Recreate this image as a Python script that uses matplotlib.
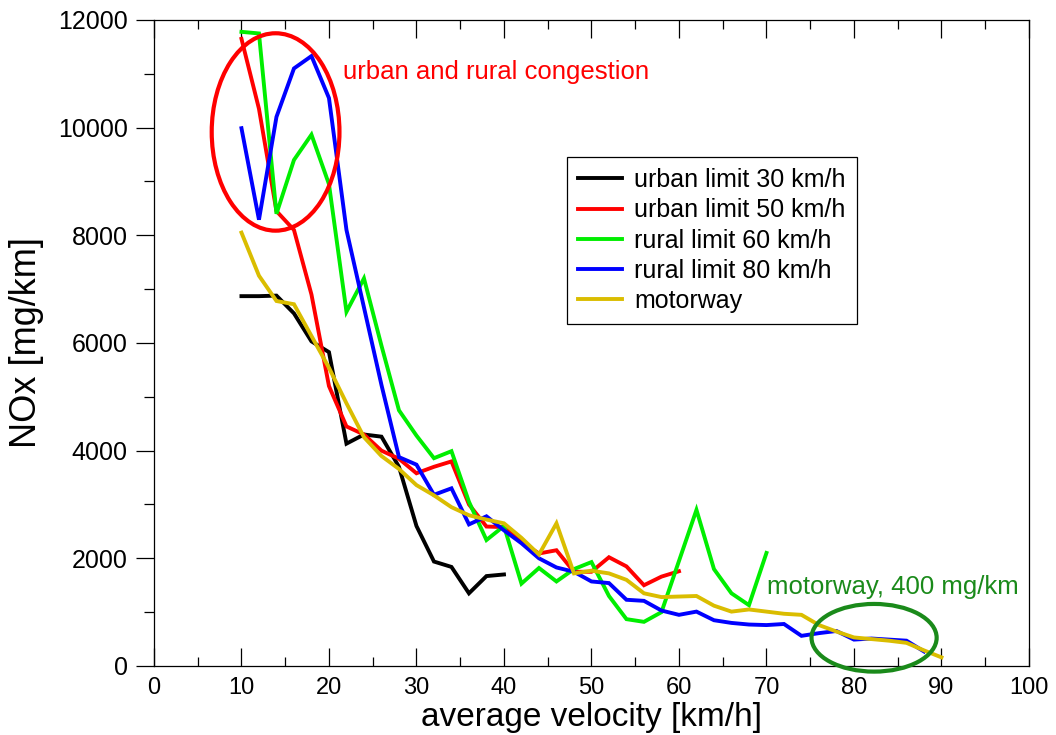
import numpy as np
import matplotlib
matplotlib.use('Agg')
import matplotlib.pyplot as plt
from matplotlib.patches import Ellipse
from matplotlib.ticker import MultipleLocator

plt.rcParams['font.family'] = ['Liberation Sans', 'DejaVu Sans']

# NOx emission factors, one series per road type
speed_urban30 = np.arange(10, 41, 2)
nox_urban30 = [6870, 6870, 6880, 6550, 6030, 5830, 4130, 4300, 4260, 3700, 2600,
               1940, 1840, 1350, 1670, 1700]

speed_urban50 = np.arange(10, 61, 2)
nox_urban50 = [11650, 10350, 8450, 8100, 6900, 5200, 4450, 4300, 4000, 3850, 3580,
               3700, 3800, 3000, 2590, 2580, 2300, 2090, 2150, 1750, 1750, 2020,
               1850, 1500, 1660, 1760]

speed_rural60 = np.arange(10, 71, 2)
nox_rural60 = [11780, 11750, 8400, 9400, 9870, 8950, 6580, 7200, 5950, 4750, 4280,
               3860, 3990, 3050, 2340, 2600, 1530, 1820, 1570, 1800, 1930, 1300,
               870, 820, 1000, 1950, 2900, 1800, 1350, 1130, 2100]

speed_rural80 = np.arange(10, 89, 2)
nox_rural80 = [9990, 8290, 10200, 11100, 11330, 10550, 8100, 6660, 5220, 3880, 3740,
               3180, 3300, 2630, 2780, 2520, 2280, 2000, 1830, 1750, 1570, 1540,
               1230, 1210, 1030, 950, 1010, 850, 800, 770, 760, 780, 560, 610,
               650, 490, 510, 490, 470, 270]

speed_motorway = np.arange(10, 91, 2)
nox_motorway = [8050, 7250, 6780, 6720, 6130, 5540, 4880, 4250, 3900, 3660, 3360,
                3170, 2950, 2800, 2720, 2650, 2380, 2070, 2650, 1720, 1770, 1720,
                1600, 1350, 1280, 1290, 1300, 1120, 1010, 1050, 1010, 970, 950,
                760, 640, 530, 500, 470, 430, 290, 160]

series = [
    (speed_urban30, nox_urban30, 'urban limit 30 km/h', 'black'),
    (speed_urban50, nox_urban50, 'urban limit 50 km/h', '#ff0000'),
    (speed_rural60, nox_rural60, 'rural limit 60 km/h', '#00ee00'),
    (speed_rural80, nox_rural80, 'rural limit 80 km/h', '#0000ff'),
    (speed_motorway, nox_motorway, 'motorway', '#dabd00'),
]

fig = plt.figure(figsize=(10.56, 7.35), dpi=100)
ax = fig.add_axes([0.1458, 0.0939, 0.8286, 0.8789])

for x, y, label, color in series:
    ax.plot(x, y, color=color, lw=2.8, label=label, solid_joinstyle='miter')

ax.set_xlim(0, 100)
ax.set_ylim(0, 12000)

ax.xaxis.set_major_locator(MultipleLocator(10))
ax.xaxis.set_minor_locator(MultipleLocator(5))
ax.yaxis.set_major_locator(MultipleLocator(2000))
ax.yaxis.set_minor_locator(MultipleLocator(1000))

ax.tick_params(axis='x', which='both', direction='in', top=True, bottom=True,
               labelsize=17, pad=8, width=0.9)
ax.tick_params(axis='x', which='major', length=13)
ax.tick_params(axis='x', which='minor', length=6.5)
ax.tick_params(axis='y', which='both', direction='out', left=True, right=False,
               labelsize=18, pad=6, width=0.9)
ax.tick_params(axis='y', which='major', length=13)
ax.tick_params(axis='y', which='minor', length=7)
for s in ax.spines.values():
    s.set_linewidth(0.9)

ax.set_xlabel('average velocity [km/h]', fontsize=24, labelpad=2)
ax.set_ylabel('NOx [mg/km]', fontsize=26, labelpad=10)

leg = ax.legend(loc='upper left', bbox_to_anchor=(0.472, 0.788), borderaxespad=0,
                fontsize=18, handlelength=1.76, handletextpad=0.48,
                labelspacing=0.25, borderpad=0.45, fancybox=False, framealpha=1,
                edgecolor='black')
leg.get_frame().set_linewidth(0.9)

# highlighted regions
ax.add_patch(Ellipse((13.9, 9920), 14.6, 3667, fill=False, edgecolor='#ff0000',
                     lw=3, clip_on=False, zorder=5))
ax.add_patch(Ellipse((82.3, 524), 14.3, 1257, fill=False, edgecolor='#1a8a1a',
                     lw=3, clip_on=False, zorder=5))

ax.text(21.6, 11034, 'urban and rural congestion', color='#ff0000', fontsize=18.5,
        va='center', ha='left')
ax.text(70.1, 1467, 'motorway, 400 mg/km', color='#1a8a1a', fontsize=18.5,
        va='center', ha='left')

fig.savefig('out.png', dpi=100)
